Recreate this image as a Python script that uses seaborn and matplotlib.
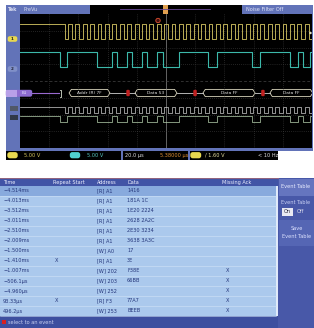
import matplotlib
matplotlib.use("Agg")
import matplotlib.pyplot as plt
import seaborn as sns
import pandas as pd
from matplotlib.patches import Rectangle, Polygon, FancyBboxPatch

plt.rcParams['font.family'] = ['DejaVu Sans']

# ---- scope traces (time in us, trigger at 0, 20 us/div) ----
scl_fall_us = [-69.5, -64.4, -59.4, -54.3, -49.2, -44.2, -39.1, -34.0, -29.0, -23.9,
               -18.8, -13.8, -8.7, -3.6, 1.4, 6.5, 11.6, 16.6, 21.7, 26.8,
               31.8, 36.9, 42.0, 47.0, 52.1, 57.2, 62.2, 67.3, 72.4, 77.4,
               82.5, 87.6, 92.6, 97.7]
scl_rise_us = [-67.1, -62.0, -57.0, -51.9, -46.8, -41.8, -36.7, -31.6, -26.6, -21.5,
               -16.4, -11.4, -6.3, -1.2, 3.8, 8.9, 14.0, 19.0, 24.1, 29.2,
               34.2, 39.3, 44.4, 49.4, 54.5, 59.6, 64.6, 69.7, 74.8, 79.8,
               84.9, 90.0, 95.0, 100.1]
sda_toggle_us = [-72.6, -67.8, -47.3, -37.0, -33.6, -26.7, -23.3, -16.4, -13.0, -6.2,
                 -2.1, 8.9, 28.8, 34.9, 58.9, 64.4, 84.9, 90.4, 93.8, 98.6]

bus_labels = ["Addr (R) 7F", "Data 53", "Data FF", "Data FF"]
bus_start_us = [-66.4, -21.2, 25.3, 71.2]
bus_end_us = [-38.4, 7.5, 61.0, 100.5]
ack_us = [-26.0, 19.9, 66.4]

# ---- event table ----
ev_time = ["−4.514ms", "−4.013ms", "−3.512ms", "−3.011ms", "−2.510ms", "−2.009ms",
           "−1.500ms", "−1.410ms", "−1.007ms", "−506.1µs", "−4.960µs", "93.33µs", "496.2µs"]
ev_repeat = ["", "", "", "", "", "", "", "X", "", "", "", "X", ""]
ev_address = ["[R] A1", "[R] A1", "[R] A1", "[R] A1", "[R] A1", "[R] A1",
              "[W] A0", "[R] A1", "[W] 202", "[W] 203", "[W] 252", "[R] F3", "[W] 253"]
ev_data = ["1416", "181A 1C", "1E20 2224", "2628 2A2C", "2E30 3234", "3638 3A3C",
           "17", "3E", "F38E", "66BB", "", "77A7", "BEEB"]
ev_missing = ["", "", "", "", "", "", "", "", "X", "X", "X", "X", "X"]
headers = ["Time", "Repeat Start", "Address", "Data", "Missing Ack"]

W, H = 314, 328
fig = plt.figure(figsize=(W / 100, H / 100), dpi=100)
fig.patch.set_facecolor("white")

bg = fig.add_axes([0, 0, 1, 1], zorder=0)
bg.set_xlim(0, W)
bg.set_ylim(H, 0)
bg.axis("off")

frame = "#6273b8"
fs = 3.6
txt_dark = "#24357a"


def rect(ax, x0, y0, x1, y1, c, **kw):
    ax.add_patch(Rectangle((x0, y0), x1 - x0, y1 - y0, facecolor=c, edgecolor="none", **kw))


# top frame
rect(bg, 6, 5, 313, 151, frame)
rect(bg, 6, 151, 278, 160, frame)
bg.text(8, 9.3, "Tek", color="#d8dcf0", fontsize=fs, fontweight="bold", va="center")
bg.text(23, 9.3, "PreVu", color="#d8dcf0", fontsize=fs, va="center")
rect(bg, 90, 5, 242, 13.5, "black")
bg.plot([120, 210], [9.3, 9.3], color="#6a4a9a", lw=0.6)
rect(bg, 163, 5, 167.5, 13.5, "#e0a050")
bg.text(246, 9.3, "Noise Filter Off", color="#e0e4f8", fontsize=fs, va="center")

# left channel markers
bg.add_patch(FancyBboxPatch((8, 36.5), 9, 5, boxstyle="round,pad=0.3,rounding_size=2",
                            facecolor="#e8d850", edgecolor="none"))
bg.text(12.5, 39.2, "1", fontsize=3, color="#222", ha="center", va="center", fontweight="bold")
bg.add_patch(FancyBboxPatch((8, 66.5), 9, 5, boxstyle="round,pad=0.3,rounding_size=2",
                            facecolor="#8090c8", edgecolor="none"))
bg.text(12.5, 69.2, "2", fontsize=3, color="#223", ha="center", va="center", fontweight="bold")
rect(bg, 10, 106, 18, 111, "#505868")
rect(bg, 10, 114.5, 18, 119.5, "#303848")

# status bar
rect(bg, 6, 151, 121, 159.5, "black")
rect(bg, 123, 151, 187.5, 159.5, "black")
rect(bg, 189.5, 151, 278, 159.5, "black")
bg.add_patch(FancyBboxPatch((7.5, 152.3), 10, 5.8, boxstyle="round,pad=0.2,rounding_size=2.5",
                            facecolor="#e8d850", edgecolor="none"))
bg.text(24, 155.3, "5.00 V", color="#d8c860", fontsize=fs, va="center")
bg.add_patch(FancyBboxPatch((70, 152.3), 10, 5.8, boxstyle="round,pad=0.2,rounding_size=2.5",
                            facecolor="#50d0d0", edgecolor="none"))
bg.text(87, 155.3, "5.00 V", color="#58c8c0", fontsize=fs, va="center")
bg.text(125, 155.3, "20.0 µs", color="#e0e0e0", fontsize=fs, va="center")
bg.text(160, 155.3, "5.38000 µs", color="#e09030", fontsize=fs, va="center")
bg.add_patch(FancyBboxPatch((190.5, 152.3), 10.5, 5.8, boxstyle="round,pad=0.2,rounding_size=2.5",
                            facecolor="#e8d850", edgecolor="none"))
bg.text(205, 155.3, "/ 1.60 V", color="#e8e0a0", fontsize=fs, va="center")
bg.text(258, 155.3, "< 10 Hz", color="#e0e0e0", fontsize=fs, va="center")

# ---- event table ----
tx = [3, 53, 97, 127, 222]
rect(bg, 0, 178, 278, 186, "#4154a6")
bg.plot([0, 278], [178.3, 178.3], color="#a06878", lw=0.6)
for x, h in zip(tx, headers):
    bg.text(x, 182.2, h, color="#eef0ff", fontsize=fs, va="center")
row_h = 10.0
for i in range(len(ev_time)):
    y0 = 186 + i * row_h
    rect(bg, 0, y0, 276, y0 + row_h, "#88aadd" if i == 0 else "#abc9ed")
    bg.plot([0, 276], [y0 + row_h, y0 + row_h], color="#d2e3f7", lw=0.4)
    yc = y0 + row_h / 2
    for x, v in zip(tx, [ev_time[i], "", ev_address[i], ev_data[i], ""]):
        bg.text(x, yc, v, color=txt_dark, fontsize=fs, va="center")
    if ev_repeat[i]:
        bg.text(55, yc, ev_repeat[i], color=txt_dark, fontsize=fs, va="center")
    if ev_missing[i]:
        bg.text(226, yc, ev_missing[i], color=txt_dark, fontsize=fs, va="center")
rect(bg, 276, 186, 278, 316, "#dfeafa")
rect(bg, 0, 316, 278, 328, "#3d4f9f")
rect(bg, 2, 320, 5.5, 324, "#d82020")
bg.text(8, 322.2, "select to an event", color="#c8d0f0", fontsize=fs, va="center")

# right panel
rect(bg, 278, 178, 314, 328, "#4858a8")
rect(bg, 279, 178.5, 314, 196, "#6575bf")
bg.text(281, 187, "Event Table", color="#e8ecff", fontsize=fs, va="center")
bg.text(281, 203, "Event Table", color="#c8d0f4", fontsize=fs, va="center")
rect(bg, 282, 208, 292.5, 215.5, "#e8e8f2")
bg.text(287.2, 211.8, "On", color="#223", fontsize=fs, va="center", ha="center")
bg.text(297, 211.8, "Off", color="#dde", fontsize=fs, va="center")
rect(bg, 279, 220, 314, 246, "#5566b4")
bg.text(296.5, 229, "Save", color="#dde2ff", fontsize=fs, va="center", ha="center")
bg.text(296.5, 236, "Event Table", color="#dde2ff", fontsize=fs, va="center", ha="center")

# ---- scope screen ----
sx0, sx1, sy0, sy1 = 20, 312, 14, 148
scr = fig.add_axes([sx0 / W, 1 - sy1 / H, (sx1 - sx0) / W, (sy1 - sy0) / H], zorder=1)
scr.set_facecolor("black")
scr.set_xlim(-100, 100)
scr.set_ylim(sy1, sy0)
scr.set_xticks([])
scr.set_yticks([])
for s in scr.spines.values():
    s.set_visible(False)
for k in range(1, 10):
    scr.axvline(-100 + 20 * k, color="#8a8a8a" if k == 5 else "#444444",
                lw=0.5, ls="-" if k == 5 else (0, (1, 2)))
for k in range(1, 8):
    scr.axhline(sy0 + (sy1 - sy0) / 8 * k, color="#444444", lw=0.5,
                ls=(0, (4, 3)) if k == 4 else (0, (1, 2)))


def steps(edges, start_high, hi, lo):
    xs, ys = [-100], [hi if start_high else lo]
    level = start_high
    for t in edges:
        xs += [t, t]
        ys += [hi if level else lo, lo if level else hi]
        level = not level
    xs.append(100)
    ys.append(hi if level else lo)
    return pd.DataFrame({"t": xs, "y": ys})


clk_edges = sorted(scl_fall_us + scl_rise_us)
traces = [
    (clk_edges, 24, 39, "#d8c864", 0.6),
    (sda_toggle_us, 52, 67, "#3cb8aa", 0.8),
    (clk_edges, 107, 113, "#d0d0d0", 0.5),
    (sda_toggle_us, 116, 122, "#b8d4b0", 0.5),
]
for edges, hi, lo, col, lw in traces:
    d = steps(edges, True, hi, lo)
    sns.lineplot(data=d, x="t", y="y", ax=scr, color=col, lw=lw,
                 estimator=None, sort=False, legend=False)

# bus decode row
yc, hh, dd = 93, 3.6, 1.6
scr.plot([-100, -73.5], [yc, yc], color="#9a6ad0", lw=0.8)
scr.plot([-72.5, -71.8, -71.8, -72.5], [yc - 3.5, yc - 3.5, yc + 3.5, yc + 3.5], color="#d8e0d0", lw=0.6)
for lab, a, b in zip(bus_labels, bus_start_us, bus_end_us):
    scr.add_patch(Polygon([(a, yc), (a + dd, yc - hh), (b - dd, yc - hh), (b, yc),
                           (b - dd, yc + hh), (a + dd, yc + hh)], closed=True,
                          facecolor="black", edgecolor="#dcd8c0", lw=0.6))
    scr.text((a + b) / 2, yc + 0.3, lab, color="#e0e0e0", fontsize=3.2, ha="center", va="center")
prev_end = bus_end_us[:-1]
for a, b, ak in zip(prev_end, bus_start_us[1:], ack_us):
    scr.plot([a, b], [yc, yc], color="#d0d0d0", lw=0.6)
    scr.add_patch(FancyBboxPatch((ak - 1.0, yc - 3), 2.0, 6, boxstyle="round,pad=0.2,rounding_size=1",
                                 facecolor="#c02020", edgecolor="none", zorder=3))

ov = fig.add_axes([0, 0, 1, 1], zorder=2)
ov.set_xlim(0, W)
ov.set_ylim(H, 0)
ov.axis("off")
ov.patch.set_alpha(0)
ov.add_patch(FancyBboxPatch((6, 90), 26, 6.5, boxstyle="round,pad=0.2,rounding_size=2",
                            facecolor="#8e6cd0", edgecolor="none"))
rect(ov, 6, 90, 17, 96.5, "#b8a0e8")
ov.text(24, 93.3, "B1", color="#e8e0ff", fontsize=3, ha="center", va="center")
ov.add_patch(plt.Circle((158, 20.5), 2.2, facecolor="#401010", edgecolor="#e05030", lw=0.6))
ov.add_patch(plt.Circle((310.5, 33), 1.2, facecolor="#e0e0c0", edgecolor="none"))

fig.savefig("out.png", dpi=100)
